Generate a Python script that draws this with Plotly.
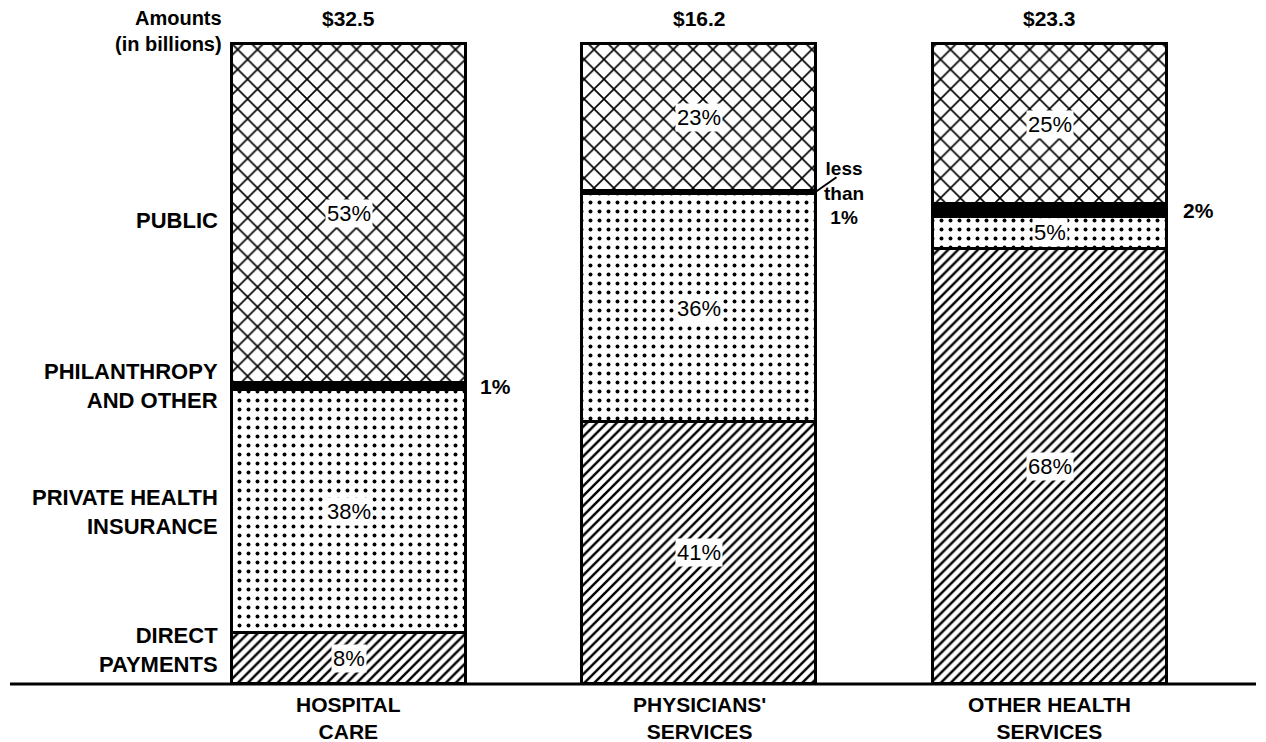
import plotly.graph_objects as go

# ---------------- data ----------------
categories = ["HOSPITAL<br>CARE", "PHYSICIANS'<br>SERVICES", "OTHER HEALTH<br>SERVICES"]
amounts = ["$32.5", "$16.2", "$23.3"]

direct_payments = [8, 41, 68]
private_insurance = [38, 35.5, 5]
philanthropy = [1, 0.5, 2]
public = [53, 23, 25]

direct_labels = ["8%", "41%", "68%"]
private_labels = ["38%", "36%", "5%"]
philanthropy_labels = ["1%", "less<br>than<br>1%", "2%"]
public_labels = ["53%", "23%", "25%"]

row_labels = ["DIRECT<br>PAYMENTS", "PRIVATE HEALTH<br>INSURANCE",
              "PHILANTHROPY<br>AND OTHER", "PUBLIC"]

# ---------------- style ----------------
FONT = "Liberation Sans, Arial, sans-serif"
BAR_W = 0.668
xs = [0, 1, 2]

fig = go.Figure()

def add_seg(vals, shape, size, solidity, name, solid=False):
    if solid:
        marker = dict(color="black", line=dict(color="black", width=3))
    else:
        marker = dict(color="white", line=dict(color="black", width=3),
                      pattern=dict(shape=shape, size=size, solidity=solidity,
                                   fgcolor="black", bgcolor="white",
                                   fillmode="replace"))
    fig.add_trace(go.Bar(x=xs, y=vals, width=BAR_W, marker=marker, name=name,
                         showlegend=False, hoverinfo="skip"))

add_seg(direct_payments, "/", 7, 0.35, "Direct payments")
add_seg(private_insurance, ".", 9, 0.15, "Private health insurance")
add_seg(philanthropy, "", 8, 0.3, "Philanthropy and other", solid=True)
add_seg(public, "x", 14, 0.22, "Public")

ann = []
pct_font = dict(family=FONT, size=22, color="black")
bold = dict(family=FONT, size=21, color="black", weight="bold")
row_font = dict(family=FONT, size=22, color="black", weight="bold")

def pct(x, y, text):
    ann.append(dict(x=x, y=y, xref="x", yref="y", text=text, showarrow=False,
                    font=pct_font, bgcolor="white", borderpad=1))

for i in range(3):
    d = direct_payments[i]
    p = private_insurance[i]
    ph = philanthropy[i]
    pu = public[i]
    pct(i, d / 2, direct_labels[i])
    pct(i, d + p / 2, private_labels[i])
    pct(i, d + p + ph + pu / 2, public_labels[i])
    # amount on top
    ann.append(dict(x=i, y=d + p + ph + pu, xref="x", yref="y", text=amounts[i],
                    showarrow=False, font=bold, yanchor="bottom", yshift=12))
    # category below
    ann.append(dict(x=i, y=0, xref="x", yref="y", text=categories[i],
                    showarrow=False, font=bold, yanchor="top", yshift=-7))

# philanthropy side labels
ann.append(dict(x=0 + BAR_W / 2, y=direct_payments[0] + private_insurance[0] + philanthropy[0] / 2,
                text=philanthropy_labels[0], showarrow=False, font=bold,
                xanchor="left", xshift=12))
ann.append(dict(x=1 + BAR_W / 2, y=direct_payments[1] + private_insurance[1] + philanthropy[1] / 2,
                text=philanthropy_labels[1], showarrow=False,
                font=dict(family=FONT, size=19, color="black", weight="bold"),
                xanchor="center", xshift=28))
ann.append(dict(x=2 + BAR_W / 2, y=direct_payments[2] + private_insurance[2] + philanthropy[2] / 2,
                text=philanthropy_labels[2], showarrow=False, font=bold,
                xanchor="left", xshift=14))

# row labels on the left (aligned to the hospital bar)
h_d, h_p, h_ph = direct_payments[0], private_insurance[0], philanthropy[0]
row_y = [h_d / 2, h_d + h_p / 2, h_d + h_p + h_ph / 2, h_d + h_p + h_ph + public[0] / 2]
row_shift = [8, -1, 0, -7]
for lbl, yv, sh in zip(row_labels, row_y, row_shift):
    ann.append(dict(x=-BAR_W / 2, y=yv, text=lbl, showarrow=False, font=row_font,
                    xanchor="right", align="right", xshift=-12, yshift=sh))

ann.append(dict(x=-BAR_W / 2, y=100, text="Amounts<br>(in billions)", showarrow=False,
                font=dict(family=FONT, size=20, color="black", weight="bold"),
                xanchor="right", align="right", xshift=-8, yshift=13))

shapes = [
    dict(type="line", xref="paper", yref="y", x0=0, x1=1, y0=0, y1=0,
         line=dict(color="black", width=3)),
    dict(type="line", xref="x", yref="y", xsizemode="pixel", ysizemode="pixel",
         xanchor=1 + BAR_W / 2, yanchor=direct_payments[1] + private_insurance[1] + philanthropy[1],
         x0=0, x1=20, y0=0, y1=14, line=dict(color="black", width=2)),
]

fig.update_layout(
    width=1266, height=742,
    margin=dict(l=10, r=10, t=0, b=0),
    paper_bgcolor="white", plot_bgcolor="white",
    barmode="stack", bargap=0,
    xaxis=dict(range=[-0.967, 2.588], visible=False, fixedrange=True),
    yaxis=dict(range=[-9.0625, 106.875], visible=False, fixedrange=True),
    annotations=ann, shapes=shapes,
    font=dict(family=FONT),
)

fig.write_html("out.html", config={"displayModeBar": False},
               post_script="document.body.style.margin='0';document.body.style.overflow='hidden';")
